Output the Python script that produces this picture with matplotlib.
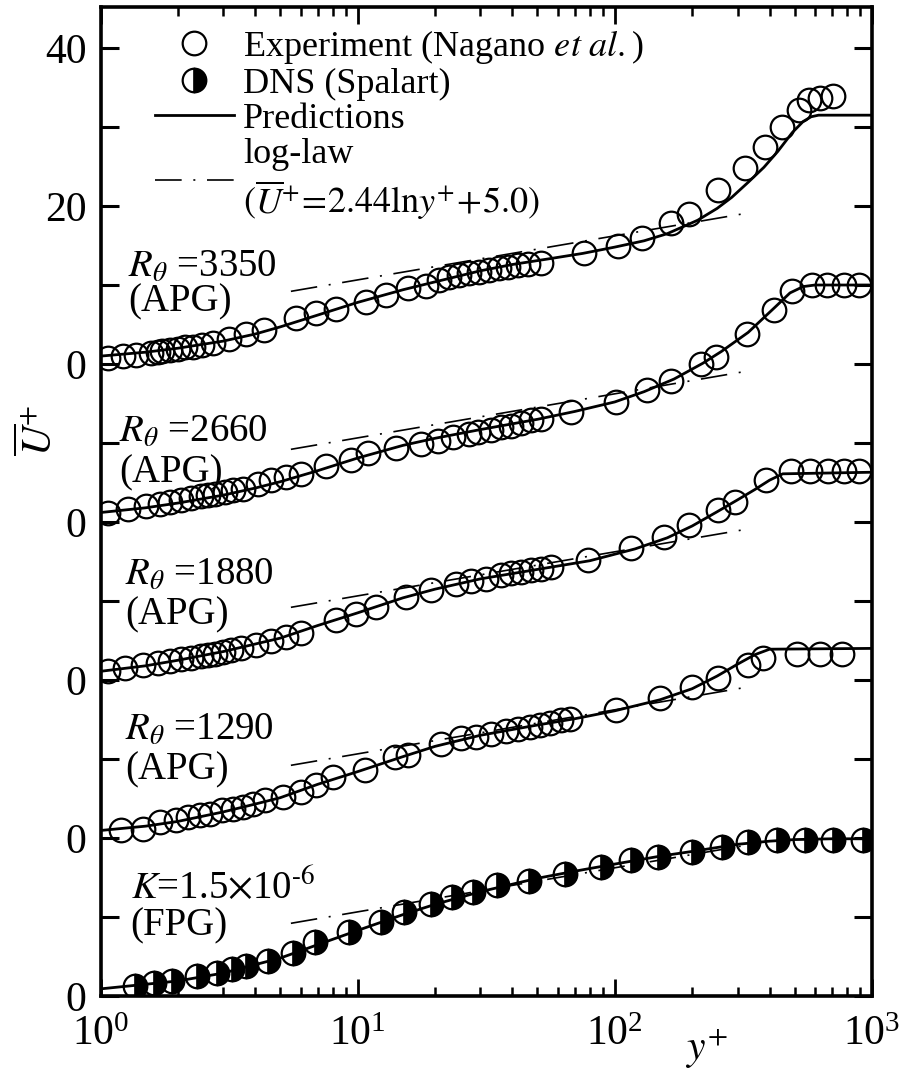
import numpy as np
import matplotlib
matplotlib.use("Agg")
import matplotlib.pyplot as plt
from matplotlib.lines import Line2D

plt.rcParams['font.family'] = ['Liberation Serif', 'DejaVu Serif']
plt.rcParams['mathtext.fontset'] = 'stix'

# vertical shift of each case (curves stacked by 20)
offsets = [0, -20, -40, -60, -80]
case_lines = [(r"$R_\theta$ =3350", "(APG)"),
              (r"$R_\theta$ =2660", "(APG)"),
              (r"$R_\theta$ =1880", "(APG)"),
              (r"$R_\theta$ =1290", "(APG)"),
              (r"$K$=1.5$\times$10$^{\text{-6}}$", "(FPG)")]

# Rtheta = 3350 (APG)
exp_y_3350 = [1.07, 1.22, 1.37, 1.57, 1.67, 1.74, 1.87, 2.01, 2.14, 2.28, 2.49, 2.73, 3.15, 3.67, 4.31,
              5.74, 6.88, 8.22, 10.8, 12.9, 15.7, 18.4, 20.8, 22.7, 24.8, 27.1, 29.6, 32.4, 35.3, 38.6,
              42.2, 46.1, 51.8, 76, 103, 127, 166, 194, 253, 320, 383, 446, 519, 568, 627, 704]
exp_u_3350 = [0.8, 1.0, 1.2, 1.35, 1.5, 1.65, 1.8, 1.95, 2.1, 2.2, 2.4, 2.6, 3.2, 3.8, 4.3,
              5.8, 6.4, 7.0, 7.8, 8.7, 9.6, 9.9, 10.6, 11.0, 11.3, 11.5, 11.7, 11.9, 12.1, 12.3,
              12.5, 12.6, 12.8, 14.1, 15.0, 16.0, 17.9, 19.0, 22.0, 24.8, 27.5, 30.0, 32.1, 33.4, 33.7, 33.9]
pred_y_3350 = [1, 1.5, 2, 3, 4, 5, 7, 10, 15, 20, 30, 40, 55, 75, 100, 130, 160, 210, 250, 285,
               330, 380, 430, 490, 540, 580, 620, 1000]
pred_u_3350 = [1.0, 1.5, 2.0, 2.9, 3.8, 4.7, 6.2, 7.8, 9.4, 10.4, 11.8, 12.6, 13.3, 14.0, 14.8, 15.6,
               16.5, 18.2, 19.7, 21.1, 23.0, 24.9, 26.9, 29.3, 30.7, 31.3, 31.5, 31.5]

# Rtheta = 2660 (APG)
exp_y_2660 = [1.07, 1.28, 1.50, 1.71, 1.87, 2.05, 2.24, 2.45, 2.62, 2.80, 3.04, 3.28, 3.59, 4.11, 4.60,
              5.25, 6.01, 7.53, 9.43, 11.0, 14.1, 17.6, 20.6, 23.5, 27.0, 29.5, 33.0, 36.1, 39.5, 43.2,
              47.3, 51.8, 67.8, 101.5, 133, 166, 217, 248, 326, 417, 488, 585, 667, 781, 892]
exp_u_2660 = [1.1, 1.6, 2.0, 2.3, 2.5, 2.8, 3.1, 3.25, 3.4, 3.6, 3.8, 4.0, 4.2, 4.8, 5.3,
              5.7, 6.1, 7.05, 7.8, 8.7, 9.4, 9.9, 10.3, 10.8, 11.1, 11.4, 11.6, 12.0, 12.2, 12.5,
              12.9, 13.1, 13.9, 15.2, 16.7, 17.9, 20.0, 20.9, 23.8, 26.8, 29.3, 30.0, 30.0, 30.0, 30.0]
pred_y_2660 = [1, 1.5, 2, 3, 4, 5, 7, 10, 15, 20, 30, 50, 70, 100, 130, 170, 220, 260, 330, 420,
               480, 540, 600, 1000]
pred_u_2660 = [1.2, 1.8, 2.4, 3.4, 4.3, 5.1, 6.5, 8.1, 9.7, 10.6, 11.7, 13.0, 14.0, 15.2, 16.5, 18.1,
               20.1, 21.6, 24.0, 27.2, 29.0, 29.8, 30.0, 30.0]

# Rtheta = 1880 (APG)
exp_y_1880 = [1.07, 1.25, 1.46, 1.67, 1.87, 2.05, 2.24, 2.45, 2.62, 2.80, 3.0, 3.21, 3.51, 4.01, 4.60,
              5.25, 6.01, 8.22, 9.85, 11.8, 15.4, 19.3, 24.1, 27.6, 31.6, 36.1, 39.5, 43.2, 47.3, 51.8,
              56.7, 79, 116, 156, 194, 253, 293, 388, 486, 576, 675, 779, 888]
exp_u_1880 = [1.1, 1.55, 1.85, 2.15, 2.4, 2.6, 2.8, 3.0, 3.15, 3.35, 3.55, 3.75, 4.0, 4.4, 4.9,
              5.4, 5.9, 7.6, 8.4, 9.2, 10.5, 11.4, 12.2, 12.5, 12.8, 13.25, 13.5, 13.7, 13.9, 14.1,
              14.3, 15.15, 16.7, 18.1, 19.6, 21.5, 22.5, 25.3, 26.5, 26.5, 26.5, 26.5, 26.5]
pred_y_1880 = [1, 1.5, 2, 3, 5, 7, 10, 15, 20, 30, 50, 80, 120, 160, 200, 250, 300, 350, 400, 450, 1000]
pred_u_1880 = [1.1, 1.8, 2.5, 3.6, 5.3, 6.9, 8.5, 10.4, 11.5, 12.8, 14.0, 15.1, 16.6, 18.0, 19.5,
               21.3, 22.8, 24.1, 25.3, 26.1, 26.3]

# Rtheta = 1290 (APG)
exp_y_1290 = [1.20, 1.46, 1.71, 1.96, 2.18, 2.44, 2.67, 2.98, 3.27, 3.57, 3.91, 4.38, 5.13, 6.0, 6.87,
              8.04, 10.7, 14.0, 15.7, 21.0, 25.2, 28.8, 32.9, 37.6, 42.1, 47.0, 51.4, 56.2, 61.5, 67.2,
              101, 150, 200, 252, 331, 378, 509, 627, 763]
exp_u_1290 = [0.97, 1.2, 2.0, 2.25, 2.65, 2.9, 3.1, 3.5, 3.7, 3.9, 4.35, 4.75, 5.2, 5.8, 6.65,
              7.7, 8.6, 10.3, 10.5, 11.95, 12.6, 12.8, 13.2, 13.6, 13.85, 14.05, 14.25, 14.6, 14.9, 15.1,
              16.2, 17.7, 19.1, 20.3, 21.9, 22.8, 23.3, 23.3, 23.3]
pred_y_1290 = [1, 1.5, 2, 3, 4, 5, 7, 10, 15, 20, 30, 50, 70, 100, 150, 200, 250, 300, 350, 400, 1000]
pred_u_1290 = [0.95, 1.5, 2.1, 3.3, 4.3, 5.1, 6.8, 8.4, 10.3, 11.6, 13.0, 14.3, 15.1, 16.1, 17.5,
               18.9, 20.5, 22.0, 23.2, 23.9, 24.0]

# K = 1.5e-6 (FPG), DNS
dns_y = [1.36, 1.62, 1.90, 2.38, 2.85, 3.25, 3.68, 4.5, 5.6, 6.8, 9.27, 12.3, 15.2, 19.2, 23.3,
         28.2, 34.9, 46.3, 63.8, 88.6, 115.6, 147, 199, 262, 330, 428, 548, 706, 920]
dns_u = [1.3, 1.7, 1.95, 2.55, 2.97, 3.4, 3.8, 4.45, 5.5, 6.8, 8.1, 9.4, 10.6, 11.7, 12.5,
         13.2, 14.0, 14.6, 15.5, 16.3, 17.2, 17.6, 18.2, 18.9, 19.5, 19.7, 19.8, 19.8, 19.8]
pred_y_fpg = [1, 2, 3, 5, 7, 10, 15, 20, 30, 50, 70, 100, 150, 200, 300, 400, 500, 700, 1000]
pred_u_fpg = [0.9, 1.9, 2.9, 4.8, 6.5, 8.3, 10.3, 11.6, 13.2, 14.9, 15.8, 16.7, 17.7, 18.3, 19.2,
              19.6, 19.8, 19.9, 19.9]

# log-law segment (U+ = 2.44 ln y+ + 5.0), end points
loglaw_y = [5.5, 314]
loglaw_u = [9.2, 19.0]

exp_sets = [(exp_y_3350, exp_u_3350), (exp_y_2660, exp_u_2660), (exp_y_1880, exp_u_1880),
            (exp_y_1290, exp_u_1290)]
pred_sets = [(pred_y_3350, pred_u_3350), (pred_y_2660, pred_u_2660), (pred_y_1880, pred_u_1880),
             (pred_y_1290, pred_u_1290), (pred_y_fpg, pred_u_fpg)]

fig = plt.figure(figsize=(9.12, 10.69), dpi=100)
ax = fig.add_axes([0.1102, 0.0683, 0.8459, 0.9252])

dash_dot = (0, (16, 7, 1.2, 7))
ms = 17
mew = 1.6

for i, off in enumerate(offsets):
    py, pu = pred_sets[i]
    ax.plot(py, np.array(pu) + off, color='k', lw=2.0, zorder=2)
    ax.plot(loglaw_y, np.array(loglaw_u) + off, color='k', lw=1.2, ls=dash_dot, zorder=2)
    if i < 4:
        ey, eu = exp_sets[i]
        ax.plot(ey, np.array(eu) + off, ls='none', marker='o', ms=ms, mfc='none',
                mec='k', mew=mew, zorder=3)
    else:
        ax.plot(dns_y, np.array(dns_u) + off, ls='none', marker='o', ms=ms, fillstyle='right',
                mfc='k', markerfacecoloralt='none', mec='k', mew=mew, zorder=3)

# case labels
label_pos = [(1.28, 10.97, 6.67), (1.18, -9.9, -15.0), (1.245, -28.0, -33.0),
             (1.245, -47.6, -52.6), (1.31, -67.6, -72.3)]
for (l1, l2), (lx, ly1, ly2) in zip(case_lines, label_pos):
    ax.text(lx, ly1, l1, fontsize=28, ha='left', va='baseline')
    ax.text(lx, ly2, l2, fontsize=28, ha='left', va='baseline')

ax.set_xscale('log')
ax.set_xlim(1, 1000)
ax.set_ylim(-80, 45.2)

ax.set_yticks([-80, -60, -40, -20, 0, 20, 40])
ax.set_yticklabels(['0', '0', '0', '0', '0', '20', '40'])
ax.set_yticks([-70, -50, -30, -10, 10, 30], minor=True)

ax.tick_params(axis='y', which='both', direction='in', length=13, width=2.2,
               left=True, right=True, labelsize=30, pad=10)
ax.tick_params(axis='x', which='major', direction='in', length=12.5, width=2.0,
               top=True, labelsize=30, pad=14)
ax.tick_params(axis='x', which='minor', direction='in', length=6.5, width=1.8, top=True)
for sp in ax.spines.values():
    sp.set_linewidth(2.6)

ax.set_xlabel(r'$y^{+}$', fontsize=30)
ax.xaxis.set_label_coords(0.785, -0.031)
ax.set_ylabel(r'$\overline{U}^{+}$', fontsize=30)
ax.yaxis.set_label_coords(-0.052, 0.572)

handles = [
    Line2D([], [], ls='none', marker='o', ms=ms, mfc='none', mec='k', mew=mew),
    Line2D([], [], ls='none', marker='o', ms=ms, fillstyle='right', mfc='k',
           markerfacecoloralt='none', mec='k', mew=mew),
    Line2D([], [], color='k', lw=2.0),
    Line2D([], [], color='k', lw=1.2, ls=dash_dot),
]
labels = [r'Experiment (Nagano $\mathit{et\ al.}$)',
          'DNS (Spalart)',
          'Predictions',
          'log-law\n' + r'$(\overline{U}^{+}\!=\!2.44\mathrm{ln}y^{+}\!+\!5.0)$']
ax.legend(handles, labels, loc='upper left', bbox_to_anchor=(0.07, 0.979), frameon=False,
          fontsize=26, handlelength=2.2, handletextpad=0.25, labelspacing=0.05,
          borderpad=0, borderaxespad=0, numpoints=1)

fig.savefig('out.png', dpi=100)
